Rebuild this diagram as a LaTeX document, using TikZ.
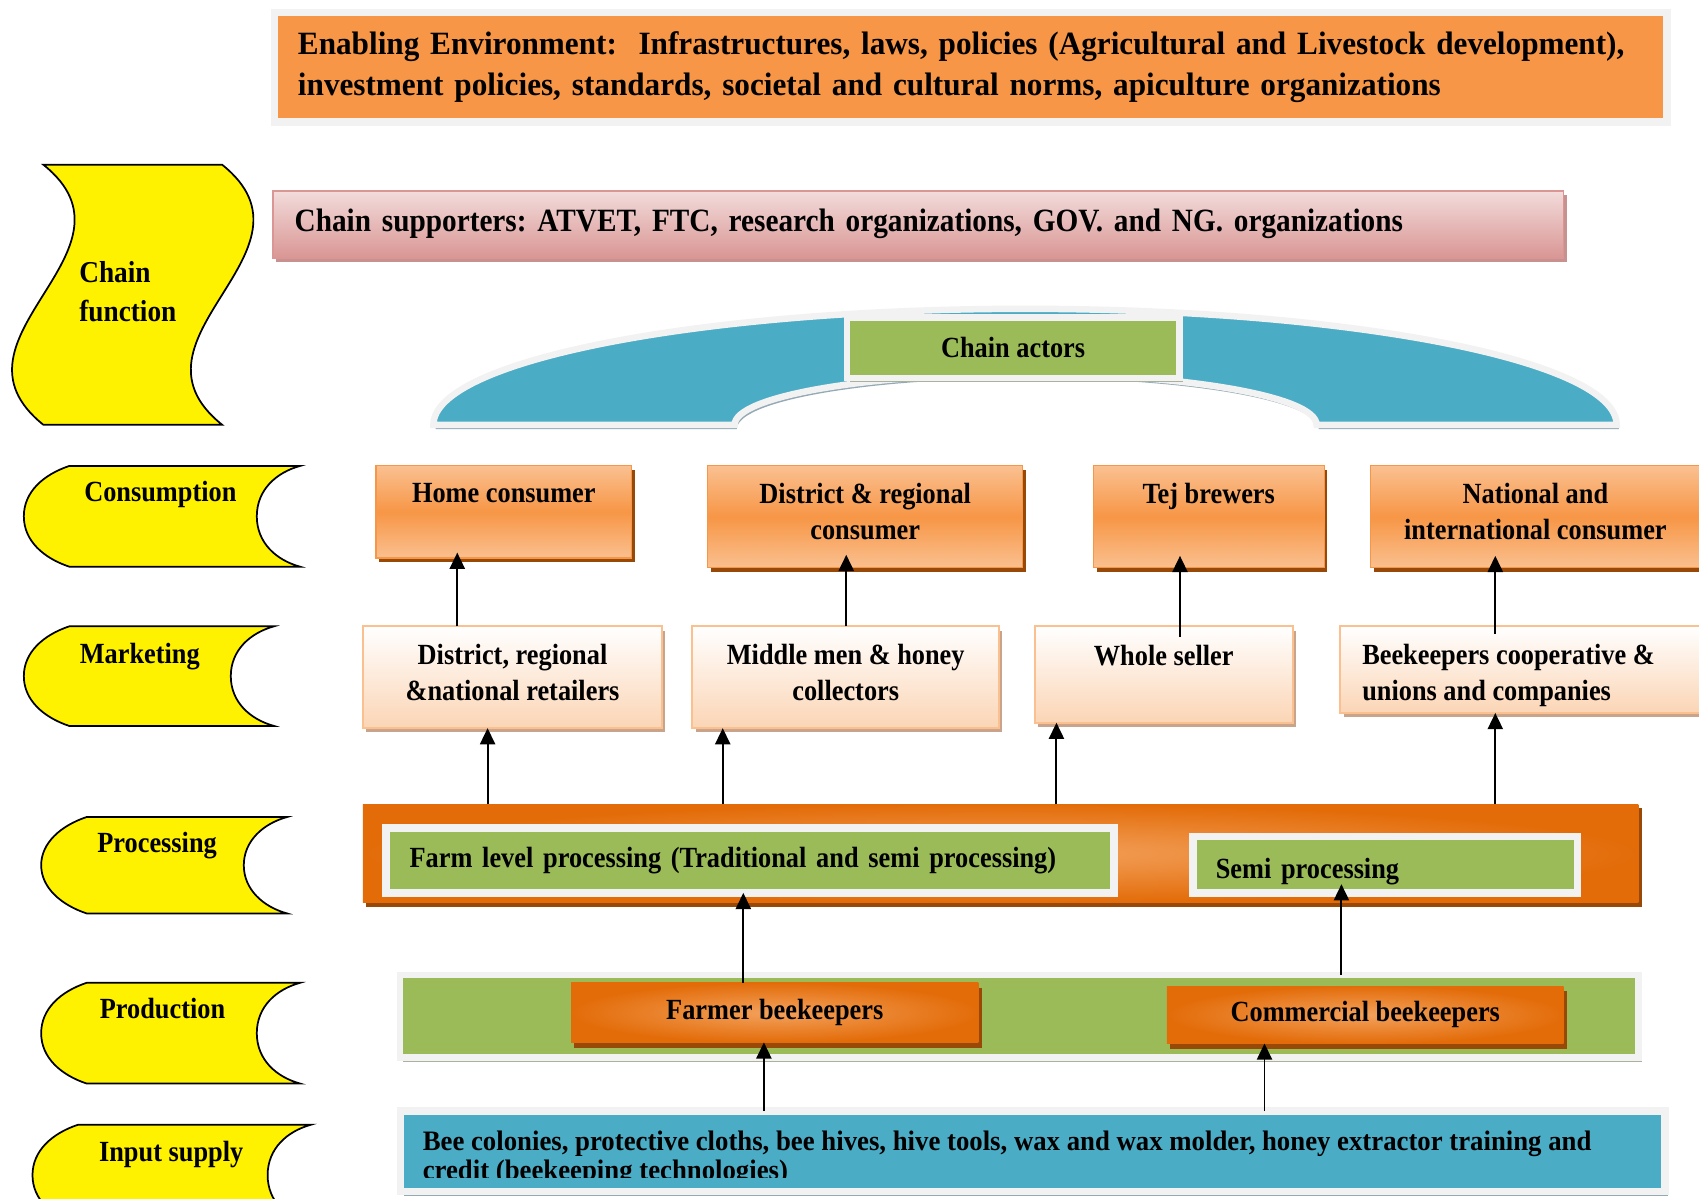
\documentclass[tikz,border=0pt]{standalone}
\usepackage{fontspec}
\setmainfont{Liberation Serif}[FakeStretch=0.9]
\newfontfamily\widefont{Liberation Serif}[FakeStretch=0.96]
\newfontfamily\inputfont{Liberation Serif}[FakeStretch=0.95]
\usetikzlibrary{positioning,shadows,arrows.meta}
\frenchspacing

\definecolor{envorange}{HTML}{F79646}
\definecolor{lightorange}{HTML}{FAC090}
\definecolor{darkorange}{HTML}{E36C09}
\definecolor{glow}{HTML}{F3A15C}
\definecolor{brownshadow}{HTML}{984807}
\definecolor{peach}{HTML}{FBD5B5}
\definecolor{tanshadow}{HTML}{C9A38A}
\definecolor{pinklight}{HTML}{F2DCDB}
\definecolor{pinkdark}{HTML}{D99694}
\definecolor{leaf}{HTML}{9BBB59}
\definecolor{sky}{HTML}{4BACC6}
\definecolor{framegrey}{HTML}{F2F2F2}
\definecolor{greyshadow}{HTML}{A9B39B}
\definecolor{blueshadow}{HTML}{93AAB5}

\tikzset{
  txt/.style={font=\fontsize{27}{33}\selectfont\bfseries, inner sep=0pt},
  bigtxt/.style={font=\fontsize{30}{38}\selectfont\bfseries},
  stage/.style={draw=black, line width=1.6pt, fill=yellow},
  boxat/.style={anchor=north west, outer sep=0pt},
  envbox/.style={boxat, font=\widefont\fontsize{30}{38}\selectfont\bfseries, draw=framegrey,
    line width=7pt, fill=envorange, align=left, inner xsep=21.5pt,
    drop shadow={shadow xshift=3pt, shadow yshift=-4pt, fill=tanshadow, opacity=1}},
  supportbox/.style={boxat, bigtxt, draw=pinkdark, line width=1.5pt, top color=pinklight,
    bottom color=pinkdark, align=left, inner xsep=20pt,
    drop shadow={shadow xshift=3pt, shadow yshift=-4pt, fill=pinkdark!80!gray, opacity=1}},
  consbox/.style={boxat, draw=envorange, line width=1pt, top color=lightorange,
    bottom color=lightorange, middle color=envorange,
    drop shadow={shadow xshift=3pt, shadow yshift=-4pt, fill=brownshadow, opacity=1}},
  markbox/.style={boxat, draw=lightorange, line width=2pt, top color=white,
    bottom color=peach,
    drop shadow={shadow xshift=3pt, shadow yshift=-4pt, fill=tanshadow, opacity=1}},
  greenbox/.style={boxat, txt, draw=framegrey, line width=7pt, fill=leaf,
    drop shadow={shadow xshift=3pt, shadow yshift=-4pt, fill=greyshadow, opacity=1}},
  beebox/.style={boxat, txt, inner color=glow, outer color=darkorange,
    drop shadow={shadow xshift=3pt, shadow yshift=-5pt, fill=brownshadow, opacity=1}},
  arr/.style={-{Triangle[length=15pt,width=14pt]}, line width=1.8pt},
}

% left side stage labels: L R T B
\newcommand{\stageshape}[4]{%
  \draw[stage] (#1+42,-#3) -- (#2,-#3)
    .. controls (#2-22,-#3-6) and (#2-40,-#3-22) .. (#2-40,{-(#3+#4)/2})
    .. controls (#2-40,-#4+22) and (#2-22,-#4+6) .. (#2,-#4)
    -- (#1+42,-#4)
    .. controls (#1+18,-#4+8) and (#1,-#4+24) .. (#1,{-(#3+#4)/2})
    .. controls (#1,-#3-24) and (#1+18,-#3-8) .. (#1+42,-#3) -- cycle;}

\begin{document}
\begin{tikzpicture}[x=1pt,y=1pt]
\useasboundingbox (0,0) rectangle (1568,-1106);

% top boxes
\node[envbox, minimum width=1285pt, minimum height=101pt, text width=1242pt] (env) at (253.5,-11.5)
  {Enabling Environment:\ \ Infrastructures, laws, policies (Agricultural and Livestock development),\\
   investment policies, standards, societal and cultural norms, apiculture organizations};
\node[supportbox, minimum width=1191pt, minimum height=62pt, text width=1151pt] (supporters) at (252,-176)
  {Chain supporters: ATVET, FTC, research organizations, GOV. and NG. organizations};

% chain function
\draw[stage] (40,-152) -- (205,-152) .. controls (305,-232) and (105,-312) .. (205,-392)
  -- (40,-392) .. controls (-60,-312) and (140,-232) .. (40,-152) -- cycle;
\node[txt, font=\fontsize{28}{36}\selectfont\bfseries, anchor=north west, align=left] (function) at (73,-241)
  {Chain\\function};

% chain actors
\draw[draw=framegrey, line width=6pt, fill=sky,
  drop shadow={shadow xshift=2pt, shadow yshift=-4pt, fill=blueshadow, opacity=1}]
  (400,-392) arc[start angle=180, end angle=0, x radius=546, y radius=107]
  -- (1215,-392) arc[start angle=0, end angle=180, x radius=268.5, y radius=47] -- cycle;
\node[greenbox, line width=6pt, minimum width=307pt, minimum height=56pt] (actors) at (781.5,-293) {Chain actors};

% stage labels
\stageshape{22}{277}{430}{523}
\stageshape{22}{253}{578}{670}
\stageshape{38}{265}{754}{843}
\stageshape{38}{277}{907}{1000}
\stageshape{30}{287}{1038}{1131}
\node[txt, anchor=base] (lconsumption) at (148,-463) {Consumption};
\node[txt, anchor=base] (lmarketing) at (129,-612) {Marketing};
\node[txt, anchor=base] (lprocessing) at (145,-787) {Processing};
\node[txt, anchor=base] (lproduction) at (150,-940) {Production};
\node[txt, anchor=base] (linput) at (158,-1072) {Input supply};

% consumption
\node[consbox, minimum width=236pt, minimum height=85pt] (home) at (347,-430) {};
\node[consbox, minimum width=291pt, minimum height=94pt] (districtcons) at (653,-430) {};
\node[consbox, minimum width=213pt, minimum height=94pt] (tej) at (1009,-430) {};
\node[consbox, minimum width=330pt, minimum height=94pt] (natcons) at (1265,-430) {};
\node[txt, below=15.5pt of home.north] (hometxt) {Home consumer};
\node[txt, align=center, below=15.5pt of districtcons.north] (districttxt) {District \& regional\\consumer};
\node[txt, below=15.5pt of tej.north] (tejtxt) {Tej brewers};
\node[txt, align=center, anchor=north] (nattxt) at (1417,-445.5) {National and\\international consumer};

% marketing
\node[markbox, minimum width=276pt, minimum height=94pt] (retailers) at (335,-578) {};
\node[markbox, minimum width=283pt, minimum height=94pt] (middlemen) at (639,-578) {};
\node[markbox, minimum width=238pt, minimum height=89pt] (wholeseller) at (955,-578) {};
\node[markbox, minimum width=340pt, minimum height=80pt] (coop) at (1237,-578) {};
\node[txt, align=center, below=16.5pt of retailers.north] (retailtxt) {District, regional\\\&national retailers};
\node[txt, align=center, below=16.5pt of middlemen.north] (middletxt) {Middle men \& honey\\collectors};
\node[txt, below=17.5pt of wholeseller.north] (wholetxt) {Whole seller};
\node[txt, align=left, anchor=north west] (cooptxt) at (1257,-594.5) {Beekeepers cooperative \&\\unions and companies};

% processing
\node[boxat, minimum width=1177pt, minimum height=91pt, inner color=glow, outer color=darkorange,
  drop shadow={shadow xshift=3pt, shadow yshift=-4pt, fill=brownshadow, opacity=1}] (procband) at (335,-742) {};
\node[greenbox, minimum width=672pt, minimum height=60pt, inner xsep=22pt, text width=628pt, align=left] (farmproc) at (356,-764)
  {Farm level processing (Traditional and semi processing)};
\node[greenbox, minimum width=355pt, minimum height=52pt, inner xsep=21pt, text width=313pt, align=left] (semiproc) at (1101,-772)
  {\raisebox{-12.5pt}[0pt][0pt]{Semi processing}};

% production
\node[greenbox, line width=6pt, minimum width=1143pt, minimum height=76pt] (prodband) at (369,-900) {};
\node[beebox, minimum width=376pt, minimum height=55pt] (farmer) at (527,-907) {Farmer beekeepers};
\node[beebox, minimum width=366pt, minimum height=53pt] (commercial) at (1077,-910) {Commercial beekeepers};

% input supply
\node[boxat, draw=framegrey, line width=7pt, fill=sky, minimum width=1167pt, minimum height=74pt,
  drop shadow={shadow xshift=3pt, shadow yshift=-4pt, fill=blueshadow, opacity=1}] (inputs) at (369.5,-1025.5) {};
\begin{scope}
  \clip (373,-1029) rectangle (1533,-1087);
  \node[txt, font=\inputfont\fontsize{26}{27}\selectfont\bfseries, anchor=north west, align=left] (inputtxt) at (390,-1043.5)
    {Bee colonies, protective cloths, bee hives, hive tools, wax and wax molder, honey extractor training and\\
     credit (beekeeping technologies)};
\end{scope}

% arrows
\draw[arr, shorten >=-5pt] (retailers.north -| 422,0) -- (home.south -| 422,0);
\draw[arr, shorten >=-12pt] (middlemen.north -| 781,0) -- (districtcons.south -| 781,0);
\draw[arr, shorten <=-10pt, shorten >=-11pt] (wholeseller.north -| 1089,0) -- (tej.south -| 1089,0);
\draw[arr, shorten <=-7pt, shorten >=-11pt] (coop.north -| 1380,0) -- (natcons.south -| 1380,0);
\draw[arr] (procband.north -| 450,0) -- (retailers.south -| 450,0);
\draw[arr] (procband.north -| 667,0) -- (middlemen.south -| 667,0);
\draw[arr] (procband.north -| 975,0) -- (wholeseller.south -| 975,0);
\draw[arr] (procband.north -| 1380,0) -- (coop.south -| 1380,0);
\draw[arr] (farmer.north -| 686,0) -- (farmproc.south -| 686,0);
\draw[arr, shorten >=-8pt] (prodband.north -| 1238,0) -- (semiproc.south -| 1238,0);
\draw[arr] (inputs.north -| 705,0) -- (farmer.south -| 705,0);
\draw[arr] (inputs.north -| 1167,0) -- (commercial.south -| 1167,0);
\end{tikzpicture}
\end{document}
